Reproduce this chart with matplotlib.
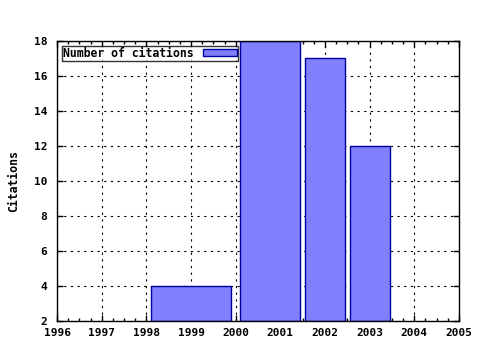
import matplotlib
matplotlib.use('Agg')
import matplotlib.pyplot as plt
from matplotlib.ticker import MultipleLocator

# data: each bar spans [year_start, year_end] with height citations
year_start = [1998.1, 2000.1, 2001.55, 2002.55]
year_end = [1999.9, 2001.45, 2002.45, 2003.45]
citations = [4, 18, 17, 12]
x_ticks = list(range(1996, 2006))
y_ticks = list(range(2, 19, 2))

plt.rcParams['font.family'] = 'DejaVu Sans Mono'
plt.rcParams['font.weight'] = 'bold'

fig = plt.figure(figsize=(4.8, 3.5), dpi=100)
ax = fig.add_axes([0.119, 0.083, 0.837, 0.8])

widths = [e - s for s, e in zip(year_start, year_end)]
ax.bar(year_start, [c - 2 for c in citations], width=widths, bottom=2, align='edge',
       color='#8080ff', edgecolor='#0000a0', linewidth=1.0, label='Number of citations', zorder=2)

ax.set_xlim(1996, 2005)
ax.set_ylim(2, 18)
ax.set_xticks(x_ticks)
ax.set_yticks(y_ticks)
ax.xaxis.set_minor_locator(MultipleLocator(0.25))
ax.tick_params(which='both', direction='in', top=True, right=True, labelsize=8, width=1)
ax.tick_params(which='major', length=4)
ax.tick_params(which='minor', length=2)
ax.tick_params(axis='y', pad=7)
ax.tick_params(axis='x', pad=5)
ax.grid(True, which='major', color='black', linestyle=(0, (2, 4)), linewidth=0.8, zorder=0)
ax.set_axisbelow(True)
for sp in ax.spines.values():
    sp.set_linewidth(1)

ax.set_ylabel('Citations', fontsize=8.3, fontweight='bold', labelpad=10)

leg = ax.legend(loc='upper left', markerfirst=False, fontsize=8.3, frameon=True, fancybox=False,
                borderpad=0.1, handlelength=3.0, handleheight=0.5, handletextpad=0.8,
                borderaxespad=0.4, bbox_to_anchor=(0.0, 1.0))
leg.get_frame().set_edgecolor('black')
leg.get_frame().set_linewidth(1)

fig.savefig('out.png', dpi=100)
